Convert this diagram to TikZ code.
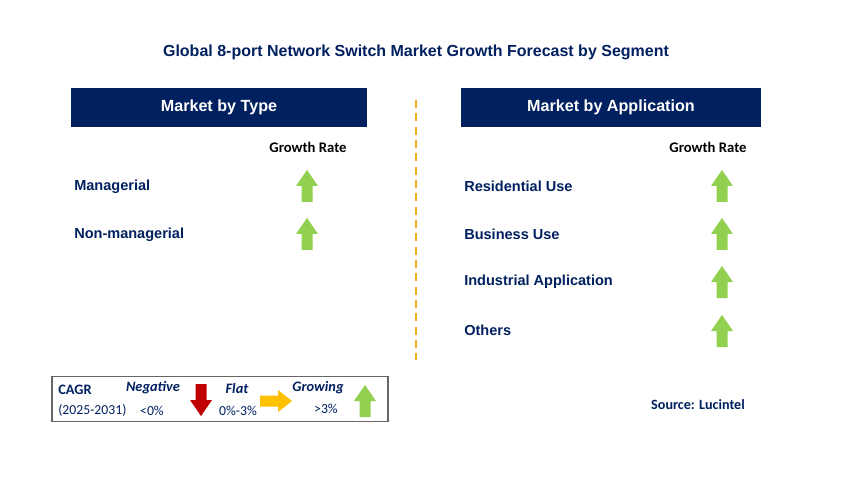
\documentclass[tikz,border=0pt]{standalone}
\usepackage{fontspec}
\setmainfont{Liberation Sans}
\newfontfamily\calib{Carlito}
\definecolor{navy}{RGB}{0,32,96}
\definecolor{agreen}{RGB}{146,208,80}
\definecolor{ared}{RGB}{192,0,0}
\definecolor{ayellow}{RGB}{255,192,0}
\definecolor{dorange}{RGB}{245,170,40}
\tikzset{
  px/.style={x=0.75pt,y=-0.75pt},
  hdr/.style={fill=navy,text=white,font=\bfseries\fontsize{12.1}{13}\selectfont,minimum width=222pt,minimum height=29pt,inner sep=0},
  item/.style={anchor=west,text=navy,font=\bfseries\fontsize{10.9}{12}\selectfont,inner sep=0},
  gr/.style={font=\calib\bfseries\fontsize{11}{12}\selectfont,inner sep=0},
  lg/.style={font=\calib\fontsize{10.3}{11}\selectfont,text=navy,inner sep=0},
  lgb/.style={font=\calib\bfseries\itshape\fontsize{10.8}{11}\selectfont,text=navy,inner sep=0},
  pics/uparrow/.style={code={\fill[#1] (-5.5,16) -- (5.5,16) -- (5.5,0) -- (11,0) -- (0,-16) -- (-11,0) -- (-5.5,0) -- cycle;}},
  pics/downarrow/.style={code={\fill[#1] (-5.5,-16) -- (5.5,-16) -- (5.5,0) -- (11,0) -- (0,16) -- (-11,0) -- (-5.5,0) -- cycle;}},
  pics/rightarrow/.style={code={\fill[#1] (-16,-5.5) -- (-16,5.5) -- (2,5.5) -- (2,11) -- (16,0) -- (2,-11) -- (2,-5.5) -- cycle;}},
}
\begin{document}
\begin{tikzpicture}[px]
\useasboundingbox[fill=white] (0,0) rectangle (863,502);
\node[text=navy,font=\bfseries\fontsize{12}{13}\selectfont] (title) at (416,52) {Global 8-port Network Switch Market Growth Forecast by Segment};
\node[hdr] (h1) at (219,107.5) {Market by Type};
\node[hdr,minimum width=225pt] (h2) at (611,107.5) {Market by Application};
\coordinate (d1) at (416,100); \coordinate (d2) at (416,360);
\draw[dorange,dashed,line width=1.1pt,dash pattern=on 6pt off 4pt] (d1) -- (d2);
\node[gr] (g1) at (308,147) {Growth Rate};
\node[gr] (g2) at (708,147) {Growth Rate};
\node[item] (l1) at (74,187) {Managerial};
\node[item] (l2) at (74,235) {Non-managerial};
\pic (a1) at (307,186) {uparrow=agreen};
\pic (a2) at (307,234) {uparrow=agreen};
\node[item] (r1) at (464,186) {Residential Use};
\node[item] (r2) at (464,234) {Business Use};
\node[item] (r3) at (464,282) {Industrial Application};
\node[item] (r4) at (464,330) {Others};
\pic (b1) at (722,186) {uparrow=agreen};
\pic (b2) at (722,234) {uparrow=agreen};
\pic (b3) at (722,282) {uparrow=agreen};
\pic (b4) at (722,331) {uparrow=agreen};
\node[draw=gray!80!black,line width=0.9pt,minimum width=252pt,minimum height=34pt,inner sep=0] (leg) at (220,399) {};
\node[lg,font=\calib\bfseries\fontsize{10.8}{11}\selectfont,anchor=west] (c1) at (58,390) {CAGR};
\node[lg,anchor=west] (c2) at (58,410) {(2025-2031)};
\node[lgb] (n1) at (153,388) {Negative};
\node[lg] (n2) at (152,411) {<0\%};
\pic (na) at (201,400) {downarrow=ared};
\node[lgb] (f1) at (237,388) {Flat};
\node[lg] (f2) at (238,411) {0\%-3\%};
\pic (fa) at (276,401) {rightarrow=ayellow};
\node[lgb] (gw1) at (318,388) {Growing};
\node[lg] (gw2) at (326,409) {>3\%};
\pic (ga) at (365,401) {uparrow=agreen};
\node[font=\calib\bfseries\fontsize{10.6}{12}\selectfont,text=navy,inner sep=0] (src) at (698,405) {Source: Lucintel};
\end{tikzpicture}
\end{document}
